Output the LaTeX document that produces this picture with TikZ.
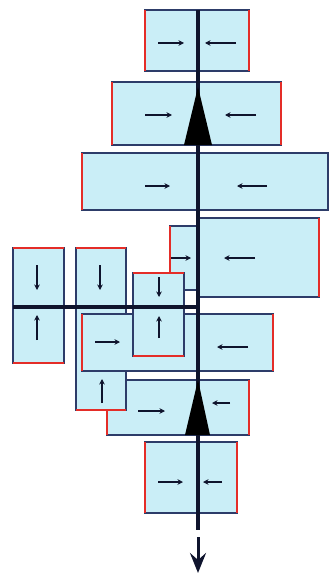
\documentclass[tikz,border=0pt]{standalone}
\usetikzlibrary{fit,arrows.meta}
\definecolor{boxfill}{RGB}{202,238,247}
\definecolor{boxline}{RGB}{45,60,105}
\definecolor{redside}{RGB}{228,45,40}
\definecolor{axis}{RGB}{15,20,45}
\tikzset{
  box/.style={draw=boxline, fill=boxfill, line width=1.1pt, inner sep=0pt, outer sep=0pt},
  whitebox/.style={draw=boxline, fill=white, line width=1.1pt, inner sep=0pt, outer sep=0pt},
  rside/.style={draw=redside, line width=2pt},
  smallarr/.style={draw=axis, line width=1.3pt, -{Stealth[length=5.5pt,width=5.5pt]}},
  axisline/.style={draw=axis, line width=3.5pt},
  wedge/.style={fill=black, draw=none},
}
\begin{document}
\begin{tikzpicture}[x=1pt,y=-1pt]
\useasboundingbox (0,0) rectangle (329,575);
% boxes (back to front)
\node[box, fit={(145,10) (249,71)}] (b1) {};
\node[box, fit={(112,82) (281,145)}] (b2) {};
\node[box, fit={(82,153) (328,210)}] (b3) {};
\node[box, fit={(198,218) (319,297)}] (b4) {};
\node[box, fit={(170,226) (198,290)}] (b5) {};
\node[whitebox, fit={(184,290) (198,306)}] (w) {};
\node[box, fit={(13,248) (64,363)}] (b7) {};
\node[box, fit={(107,380) (249,435)}] (b10) {};
\draw[rside] (b10.north west) -- (b10.south west);
\draw[rside] (b10.north east) -- (b10.south east);
\node[box, fit={(76,248) (126,410)}] (b8) {};
\draw[rside] (b8.north west) -- (b8.north east);
\draw[rside] (b8.south west) -- (b8.south east);
\node[box, fit={(82,314) (273,371)}] (b9) {};
\draw[rside] (b9.north west) -- (b9.south west);
\draw[rside] (b9.north east) -- (b9.south east);
\node[box, fit={(133,273) (184,356)}] (b6) {};
\draw[rside] (b6.north west) -- (b6.north east);
\draw[rside] (b6.south west) -- (b6.south east);
\node[box, fit={(145,442) (237,513)}] (b11) {};
\draw[rside] (b11.north west) -- (b11.south west);
\draw[rside] (b11.north east) -- (b11.south east);
% red sides of upper boxes
\draw[rside] (b1.north west) -- (b1.south west);
\draw[rside] (b1.north east) -- (b1.south east);
\draw[rside] (b2.north west) -- (b2.south west);
\draw[rside] (b2.north east) -- (b2.south east);
\draw[rside] (b3.north west) -- (b3.south west);
\draw[rside] (b4.north east) -- (b4.south east);
\draw[rside] (b5.north west) -- (b6.north west -| b5.west);
\draw[rside] (b7.north west) -- (b7.north east);
\draw[rside] (b7.south west) -- (b7.south east);
% small arrows
\draw[smallarr] (158,43) -- (184,43);
\draw[smallarr] (236,43) -- (205,43);
\draw[smallarr] (145,115) -- (172,115);
\draw[smallarr] (256,115) -- (225,115);
\draw[smallarr] (145,186) -- (170,186);
\draw[smallarr] (267,186) -- (237,186);
\draw[smallarr] (255,258) -- (224,258);
\draw[smallarr] (171,258) -- (191,258);
\draw[smallarr] (37,265) -- (37,290);
\draw[smallarr] (37,340) -- (37,315);
\draw[smallarr] (100,265) -- (100,290);
\draw[smallarr] (102,403) -- (102,379);
\draw[smallarr] (159,277) -- (159,297);
\draw[smallarr] (159,338) -- (159,316);
\draw[smallarr] (95,342) -- (120,342);
\draw[smallarr] (248,347) -- (217,347);
\draw[smallarr] (138,411) -- (165,411);
\draw[smallarr] (230,403) -- (212,403);
\draw[smallarr] (158,482) -- (183,482);
\draw[smallarr] (222,482) -- (203,482);
% axes
\coordinate (htl) at (13,307);
\coordinate (top) at (198,10);
\coordinate (bot) at (198,530);
\coordinate (tipa) at (198,537);
\coordinate (tipb) at (198,573);
\draw[axisline] (htl) -- (htl -| top);
\draw[axisline] (top) -- (bot);
\draw[draw=axis, line width=3pt, -{Stealth[length=20pt,width=16pt,inset=7pt]}] (tipa) -- (tipb);
% wedges
\fill[wedge] (198,87) -- (212,145) -- (184,145) -- cycle;
\fill[wedge] (198,380) -- (210,435) -- (185,435) -- cycle;
\end{tikzpicture}
\end{document}
